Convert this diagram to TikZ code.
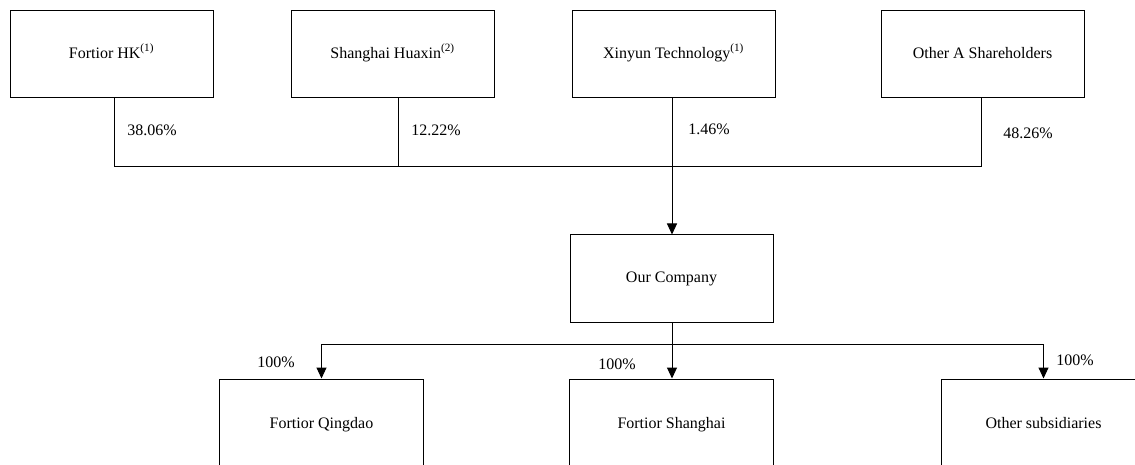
\documentclass[tikz,border=0pt]{standalone}
\usepackage{fontspec}
\setmainfont{Liberation Serif}
\usepackage{tikz}
\usetikzlibrary{positioning,arrows.meta}
\tikzset{>={Triangle[width=10pt,length=11pt]}}

\begin{document}
\begin{tikzpicture}[
  x=1pt, y=-1pt,
  line width=1pt,
  every node/.style={font=\fontsize{16}{19}\selectfont}
]

% Styles.
\tikzset{
  box/.style={rectangle, draw=black, inner sep=0pt, align=center, text height=11pt, text depth=3.5pt, minimum width=203pt, minimum height=87pt},
  subbox/.style={box, minimum width=204pt, minimum height=92pt},
  pct/.style={inner sep=0pt}
}

% Frame.
\useasboundingbox (0,0) rectangle (1135,465);
\clip (0,0) rectangle (1135,465);

% Shareholders.
\node (hk)     [box] at (111.5,54.5) {Fortior HK\textsuperscript{(1)}};
\node (huaxin) [box, right=77pt of hk]      {Shanghai Huaxin\textsuperscript{(2)}};
\node (xinyun) [box, right=77pt of huaxin]  {Xinyun Technology\textsuperscript{(1)}};
\node (other)  [box, right=105pt of xinyun] {Other A Shareholders};

% Company.
\node (our) [box, below=136pt of xinyun, xshift=-2pt] {Our Company};

% Subsidiaries.
\node (shanghai) [subbox, below=56pt of our]        {Fortior Shanghai};
\node (qingdao)  [subbox, left=145pt of shanghai]   {Fortior Qingdao};
\node (subs)     [subbox, right=167pt of shanghai]  {Other subsidiaries};

% Junctions.
\coordinate (jhk) at (114,167);
\coordinate (jhx) at (398,167);
\coordinate (jxy) at (672,167);
\coordinate (jot) at (981,167);
\coordinate (jsh) at (672,344);

% Lines to company.
\draw (jhk |- hk.south) -- (jhk) -- (jot) -- (jot |- other.south);
\draw (jhx |- huaxin.south) -- (jhx);
\draw[->] (jxy |- xinyun.south) -- (jxy |- our.north);

% Lines to subsidiaries.
\draw[->] (jsh |- our.south) -- (jsh |- shanghai.north);
\draw[->] (jsh) -| (qingdao.north);
\draw[->] (jsh) -| (subs.north);

% Shares.
\node (p1) [pct] at (152,130)  {38.06\%};
\node (p2) [pct] at (436,130)  {12.22\%};
\node (p3) [pct] at (709,129)  {1.46\%};
\node (p4) [pct] at (1028,133) {48.26\%};
\node (p5) [pct] at (276,362)  {100\%};
\node (p6) [pct] at (617,364)  {100\%};
\node (p7) [pct] at (1075,360) {100\%};
\end{tikzpicture}
\end{document}
